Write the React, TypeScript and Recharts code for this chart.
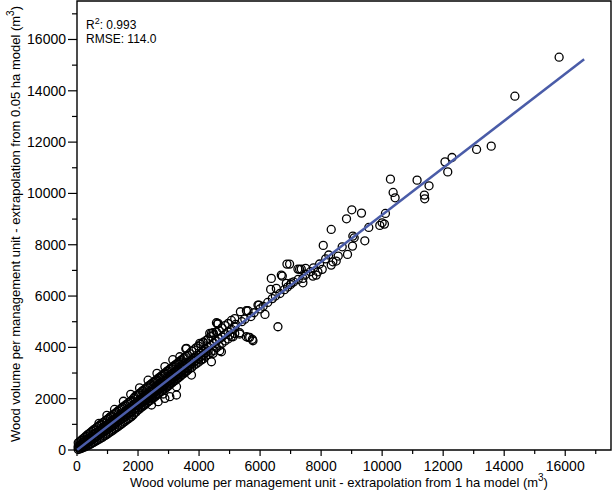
import { ScatterChart, Scatter, XAxis, YAxis, ReferenceArea } from 'recharts';

// dense band 0-5200 m3: [x, ...y values read at that x]
const denseRows: number[][] = [
  [40, 20, 85, 150, 280], [90, 40, 115, 190, 330], [140, 60, 145, 230, 380], [190, 90, 190, 290, 430],
  [240, 110, 220, 330, 480], [290, 140, 255, 370, 530], [340, 170, 295, 420, 590], [390, 200, 330, 460, 630],
  [440, 230, 370, 510, 680], [490, 260, 400, 540, 730], [540, 290, 445, 600, 780], [590, 330, 485, 640, 820],
  [640, 360, 520, 680, 870], [690, 400, 560, 720, 920], [740, 430, 600, 770, 960], [790, 470, 640, 810, 1010],
  [840, 500, 680, 860, 1060], [890, 550, 725, 900, 1100], [940, 580, 760, 940, 1150], [990, 620, 805, 990, 1190],
  [1040, 660, 845, 1030, 1240], [1090, 700, 890, 1080, 1290], [1140, 740, 930, 1120, 1330], [1190, 780, 970, 1160, 1380],
  [1240, 830, 1015, 1200, 1420], [1290, 870, 1060, 1250, 1470], [1340, 910, 1100, 1290, 1520], [1390, 960, 1150, 1340, 1560],
  [1440, 1000, 1190, 1380, 1610], [1490, 1040, 1230, 1420, 1660], [1540, 1090, 1275, 1460, 1700], [1590, 1130, 1320, 1510, 1750],
  [1640, 1180, 1365, 1550, 1790], [1690, 1220, 1410, 1600, 1840], [1740, 1270, 1455, 1640, 1890], [1790, 1310, 1500, 1690, 1930],
  [1850, 1380, 1560, 1760, 2010], [1890, 1450, 1620, 1790, 2060], [1940, 1480, 1660, 1860, 2120], [1990, 1560, 1720, 1880, 2150],
  [2040, 1590, 1760, 1950, 2200], [2080, 1650, 1800, 1960, 2230], [2130, 1680, 1850, 2030, 2290], [2170, 1730, 1880, 2040, 2320],
  [2220, 1760, 1930, 2120, 2370], [2260, 1820, 1960, 2110, 2410], [2310, 1850, 2010, 2200, 2460], [2350, 1900, 2040, 2190, 2500],
  [2400, 1930, 2100, 2290, 2540], [2440, 1990, 2130, 2280, 2580], [2490, 2010, 2180, 2380, 2630], [2530, 2070, 2210, 2360, 2660],
  [2580, 2100, 2270, 2460, 2710], [2620, 2160, 2300, 2440, 2750], [2670, 2190, 2350, 2550, 2800], [2710, 2240, 2390, 2530, 2830],
  [2760, 2280, 2440, 2640, 2880], [2800, 2330, 2470, 2610, 2920], [2850, 2360, 2530, 2720, 2970], [2890, 2410, 2560, 2700, 3000],
  [2940, 2440, 2610, 2800, 3060], [2980, 2500, 2640, 2780, 3090], [3030, 2530, 2690, 2890, 3140], [3070, 2580, 2720, 2860, 3180],
  [3120, 2620, 2780, 2980, 3220], [3160, 2670, 2800, 2940, 3260], [3210, 2700, 2860, 3060, 3310], [3250, 2760, 2890, 3030, 3340],
  [3300, 2790, 2950, 3150, 3390], [3340, 2840, 2970, 3110, 3430], [3390, 2880, 3040, 3240, 3480], [3430, 2930, 3060, 3200, 3510],
  [3480, 2960, 3130, 3320, 3560], [3520, 3020, 3150, 3280, 3600], [3570, 3050, 3210, 3400, 3650], [3620, 3100, 3230, 3370, 3690],
  [3690, 3170, 3300, 3440, 3760], [3760, 3220, 3360, 3500, 3850], [3830, 3300, 3440, 3580, 3900], [3900, 3350, 3490, 3630, 3980],
  [3980, 3420, 3560, 3700, 4050], [4060, 3510, 3640, 3780, 4120], [4140, 3560, 3710, 3860, 4200], [4220, 3660, 3790, 3930, 4260],
  [4300, 3720, 3860, 4010, 4330], [4390, 3800, 4080, 4420], [4480, 3880, 4170, 4500], [4570, 3990, 4250, 4600],
  [4660, 4060, 4330, 4650], [4750, 4150, 4400, 4760], [4850, 4250, 4500, 4850], [4950, 4330, 4600, 4930],
  [5060, 4420, 4700, 5050], [5170, 4540, 4790, 5120],
];

// scattered points around the band edges
const bandEdges: number[][] = [
  [720, 1040], [980, 1350], [1230, 1580], [1520, 1900], [1760, 2170], [2050, 2420],
  [2330, 2720], [2620, 2990], [2880, 3250], [3140, 3520], [3369, 3635], [3566, 3946],
  [3588, 3962], [4024, 4156], [4133, 4180], [4350, 4546], [4406, 4546], [4460, 4570],
  [4570, 4960], [4603, 4909], [4623, 4935], [2443, 1753], [2660, 1882], [2879, 2013],
  [3042, 2077], [3260, 2143], [2824, 2182], [3261, 2467], [3752, 2922], [4079, 3506],
  [4406, 3440], [4460, 3767], [4678, 3868], [4733, 3830], [5005, 4480], [5114, 4414],
  [5332, 4519], [5332, 4570], [5551, 4414], [5617, 4390], [5659, 4390], [5747, 4312],
  [5767, 4258],
];

// 5000-10000 m3
const midRange: number[][] = [
  [5200, 4900], [5355, 5388], [5400, 5000], [5500, 5100], [5551, 5427], [5604, 5427],
  [5700, 5200], [5800, 5350], [5931, 5649], [5964, 5649], [6000, 5500], [6100, 5600],
  [6160, 5286], [6250, 5750], [6346, 6260], [6368, 6689], [6400, 5900], [6500, 6000],
  [6532, 6299], [6585, 4803], [6650, 6100], [6695, 6817], [6728, 6778], [6800, 6250],
  [6859, 6494], [6880, 7246], [6900, 6350], [6967, 7246], [7000, 6450], [7023, 6517],
  [7100, 6550], [7240, 7051], [7250, 6650], [7295, 7040], [7350, 7051], [7403, 6517],
  [7403, 6689], [7491, 7079], [7500, 6850], [7650, 6950], [7730, 6778], [7750, 7100],
  [7840, 6817], [7894, 6946], [7950, 7250], [8037, 7040], [8070, 7974], [8150, 7450],
  [8250, 7600], [8331, 7207], [8331, 8597], [8385, 7336], [8495, 7363], [8560, 7558],
  [8691, 7920], [8832, 9011], [8865, 7624], [9006, 9361], [9028, 7947], [9040, 8337],
  [9084, 8271], [9323, 9233], [9432, 8154], [9562, 8675], [9923, 8754], [10000, 8855],
  [10075, 8804], [10108, 9221],
];

// 10000 m3 and above
const upperTail: number[][] = [
  [10272, 10557], [10360, 10038], [10425, 9830], [11145, 10518], [11384, 9934],
  [11395, 9790], [11537, 10296], [12060, 11231], [12150, 10840], [12290, 11400],
  [13095, 11714], [13575, 11843], [14350, 13790], [15800, 15310],
];

const fitLine = [
  { x: 0, y: 0 },
  { x: 16620, y: 15230 },
];

const axisMax = 17500;
const ticks = [0, 1000, 2000, 3000, 4000, 5000, 6000, 7000, 8000, 9000, 10000, 11000, 12000, 13000, 14000, 15000, 16000, 17000];
const stats = { r2: '0.993', rmse: '114.0' };

const FONT = '"Liberation Sans", Arial, Helvetica, sans-serif';

const points = [
  ...denseRows.flatMap((r) => r.slice(1).map((y) => ({ x: r[0], y }))),
  ...[...bandEdges, ...midRange, ...upperTail].map(([x, y]) => ({ x, y })),
];

const Ring = (props: any) => {
  const { cx, cy } = props;
  if (cx == null || cy == null) return null;
  return <circle cx={cx} cy={cy} r={4} fill="none" stroke="#000" strokeWidth={1.3} />;
};

const XTick = (props: any) => {
  const { x, y, payload } = props;
  const major = payload.value % 2000 === 0;
  return (
    <g>
      <line x1={x} x2={x} y1={y} y2={y + (major ? 6 : 4)} stroke="#000" strokeWidth={1.2} />
      {major && (
        <text x={x} y={y + 21} textAnchor="middle" fontSize={14} fontFamily={FONT} fill="#000">
          {payload.value}
        </text>
      )}
    </g>
  );
};

const YTick = (props: any) => {
  const { x, y, payload } = props;
  const major = payload.value % 2000 === 0;
  return (
    <g>
      <line x1={x - (major ? 9 : 5)} x2={x} y1={y} y2={y} stroke="#000" strokeWidth={1.2} />
      {major && (
        <text x={x - 11} y={y + 5} textAnchor="end" fontSize={14} fontFamily={FONT} fill="#000">
          {payload.value}
        </text>
      )}
    </g>
  );
};

export default function App() {
  return (
    <div style={{ position: 'fixed', left: 0, top: 0, width: 615, height: 500, background: '#fff' }}>
      <ScatterChart width={615} height={500} margin={{ top: 1, right: 4, bottom: 0, left: 0 }}>
        <XAxis
          type="number"
          dataKey="x"
          domain={[0, axisMax]}
          ticks={ticks}
          interval={0}
          height={50}
          axisLine={false}
          tickLine={false}
          tickSize={0}
          tickMargin={0}
          tick={<XTick />}
        />
        <YAxis
          type="number"
          dataKey="y"
          domain={[0, axisMax]}
          ticks={ticks}
          interval={0}
          width={77}
          axisLine={false}
          tickLine={false}
          tickSize={0}
          tickMargin={0}
          tick={<YTick />}
        />
        <Scatter data={points} shape={<Ring />} isAnimationActive={false} />
        <Scatter
          data={fitLine}
          line={{ stroke: '#4a5ca8', strokeWidth: 2.5 }}
          shape={() => null}
          isAnimationActive={false}
        />
        <ReferenceArea x1={0} x2={axisMax} y1={0} y2={axisMax} fill="none" stroke="#000" strokeWidth={1.4} fillOpacity={0} />
      </ScatterChart>
      <svg width={615} height={500} style={{ position: 'absolute', left: 0, top: 0, pointerEvents: 'none' }}>
        <text x={86} y={29} fontSize={12} fontFamily={FONT} fill="#000">
          R<tspan dy={-5} fontSize={9}>2</tspan>
          <tspan dy={5}>: {stats.r2}</tspan>
        </text>
        <text x={86} y={43} fontSize={12} fontFamily={FONT} fill="#000">
          RMSE: {stats.rmse}
        </text>
        <text x={339} y={487} textAnchor="middle" fontSize={13} fontFamily={FONT} fill="#000">
          Wood volume per management unit - extrapolation from 1 ha model (m<tspan dy={-6} fontSize={10}>3</tspan>
          <tspan dy={6}>)</tspan>
        </text>
        <text transform="translate(20,224) rotate(-90)" textAnchor="middle" fontSize={13} fontFamily={FONT} fill="#000">
          Wood volume per management unit - extrapolation from 0.05 ha model (m<tspan dy={-6} fontSize={10}>3</tspan>
          <tspan dy={6}>)</tspan>
        </text>
      </svg>
    </div>
  );
}
